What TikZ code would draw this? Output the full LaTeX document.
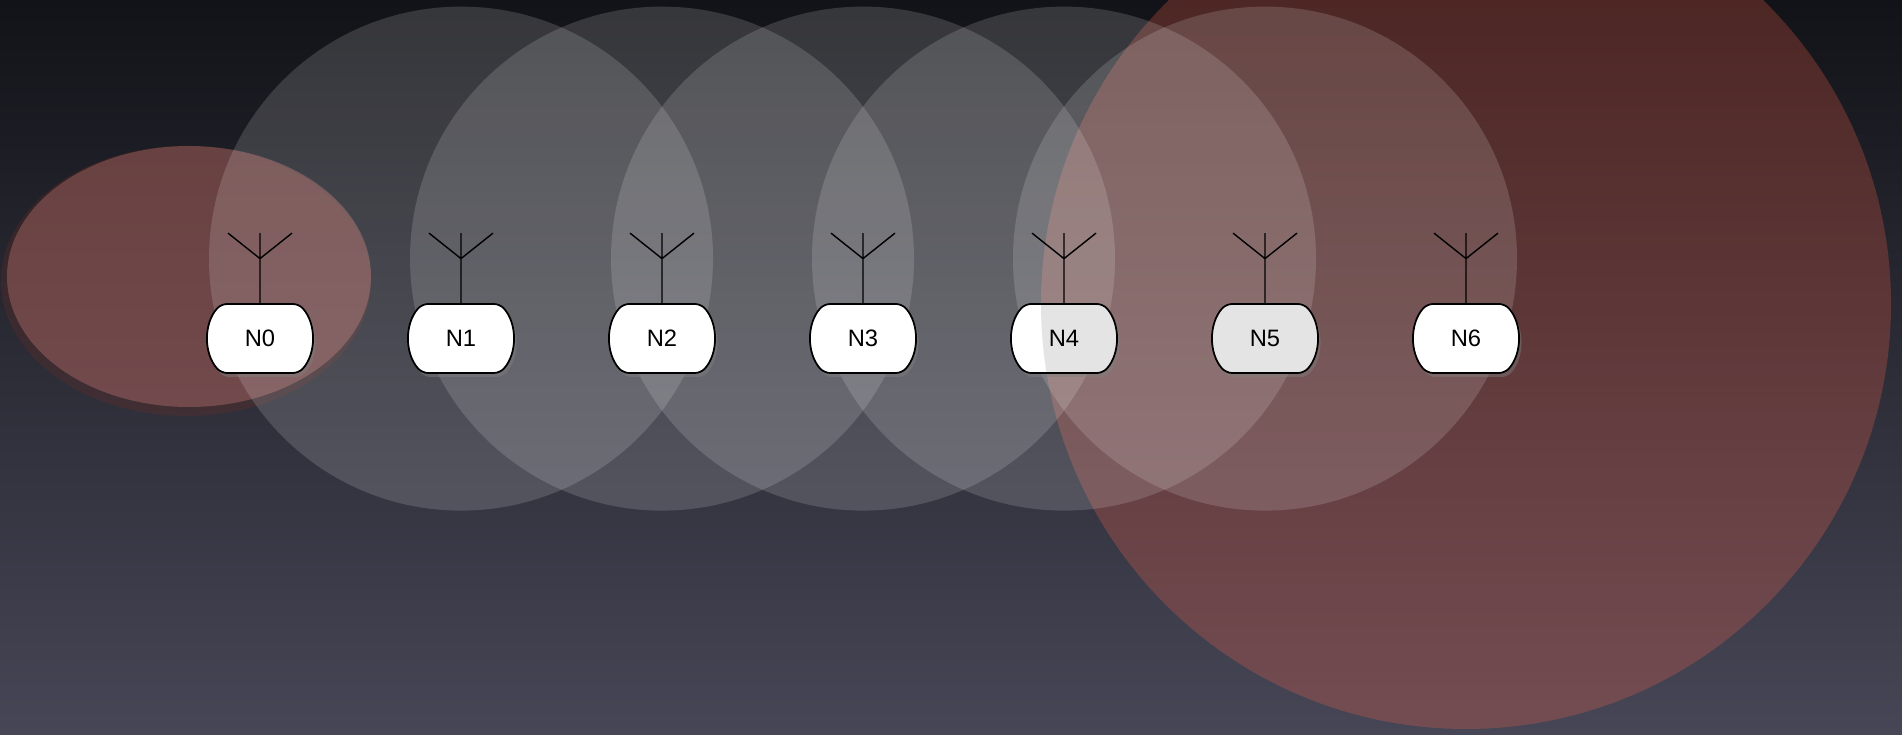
\documentclass[tikz,border=0pt]{standalone}
\usepackage{fontspec}
\setmainfont{Liberation Sans}
\usetikzlibrary{positioning, shapes.misc, shadows, backgrounds}
\definecolor{bgtop}{RGB}{18,19,24}
\definecolor{bgbottom}{RGB}{70,70,86}
\definecolor{glow}{RGB}{255,100,75}
\definecolor{blush}{RGB}{232,140,136}
\definecolor{dimmed}{RGB}{228,228,228}
\tikzset{node distance=4.02cm, % Distance between two stations. Change if necessary.
station/.style={ % Sets the properties for each radio box
    rounded rectangle, rounded rectangle arc length=83, rounded corners=.12cm,
    draw, line width=1pt, fill=white, minimum height=1.38cm,
    font=\fontsize{13.5}{16}\selectfont,
    drop shadow={opacity=.45, shadow xshift=.05cm, shadow yshift=-.08cm}},
antenna/.pic={ % Mast with two arms on top of a box
    \coordinate (-fork) at (0,.89);
    \draw[thick] (0,0) -- (0,1.4) (-.64,1.4) -- (-fork) -- (.64,1.4);},
reach/.style={fill=white, fill opacity=.15}, % Radio reach of a station
wide reach/.style={fill=glow, fill opacity=.25},
short reach/.style={fill=blush, fill opacity=.3},
halo/.style={fill=glow!45!black, fill opacity=.25}} % Dark rim below the short reach

\begin{document}
\begin{tikzpicture}
    \useasboundingbox (0,0) rectangle (38.04,14.7);
    \coordinate (hub) at (29.32,8.62);
    \node[station] (n0) at (5.2,7.93) {N0};
    \node[station, right of=n0] (n1) {N1};
    \node[station, right of=n1] (n2) {N2};
    \node[station, right of=n2] (n3) {N3};
    \node[station, right of=n3, path picture={\fill[dimmed] (hub) circle (8.5);}] (n4) {N4};
    \node[station, fill=dimmed, right of=n4] (n5) {N5};
    \node[station, right of=n5] (n6) {N6};
    \pic (a0) at (n0.north) {antenna};
    \pic (a1) at (n1.north) {antenna};
    \pic (a2) at (n2.north) {antenna};
    \pic (a3) at (n3.north) {antenna};
    \pic (a4) at (n4.north) {antenna};
    \pic (a5) at (n5.north) {antenna};
    \pic (a6) at (n6.north) {antenna};
    \begin{scope}[on background layer]
        \clip (0,0) rectangle (38.04,14.7);
        \shade[top color=bgtop, bottom color=bgbottom] (0,0) rectangle (38.04,14.7);
        \fill[halo] (3.72,9.08) ellipse (3.7 and 2.7);
        \fill[short reach] (3.78,9.17) ellipse (3.64 and 2.61);
        \fill[wide reach] (hub) circle (8.5);
        \fill[reach] (a1-fork) circle (5.04);
        \fill[reach] (a2-fork) circle (5.04);
        \fill[reach] (a3-fork) circle (5.04);
        \fill[reach] (a4-fork) circle (5.04);
        \fill[reach] (a5-fork) circle (5.04);
    \end{scope}
\end{tikzpicture}
\end{document}
